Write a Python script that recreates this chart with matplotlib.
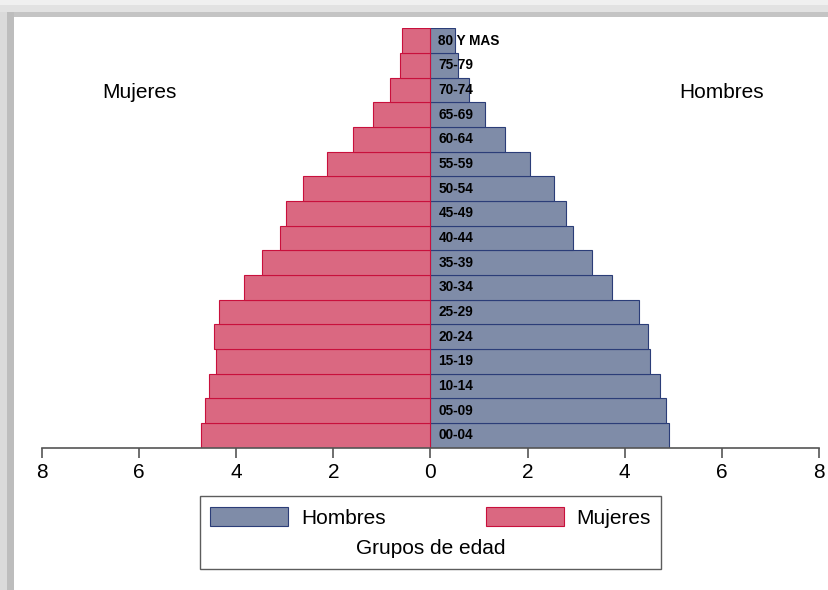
import matplotlib
matplotlib.use('Agg')
import matplotlib.pyplot as plt
from matplotlib.patches import Rectangle, Patch

plt.rcParams['font.family'] = ['Liberation Sans', 'DejaVu Sans']

# datos de la piramide (porcentaje de poblacion)
grupos = ['00-04', '05-09', '10-14', '15-19', '20-24', '25-29', '30-34', '35-39', '40-44',
          '45-49', '50-54', '55-59', '60-64', '65-69', '70-74', '75-79', '80 Y MAS']
hombres = [4.92, 4.84, 4.73, 4.52, 4.47, 4.30, 3.74, 3.33, 2.94,
           2.78, 2.54, 2.04, 1.53, 1.13, 0.79, 0.57, 0.51]
mujeres = [4.73, 4.64, 4.56, 4.42, 4.46, 4.36, 3.84, 3.48, 3.10,
           2.97, 2.63, 2.13, 1.59, 1.19, 0.84, 0.62, 0.59]
ticks = [-8, -6, -4, -2, 0, 2, 4, 6, 8]

col_h = '#7f8ca8'
borde_h = '#2b3d78'
col_m = '#da6881'
borde_m = '#c8103c'

fig = plt.figure(figsize=(8.29, 5.90), dpi=100)

# sombra gris del marco (arriba e izquierda)
W, H = 829, 590
for y0, y1, c in [(0, 5, '#f0f0f0'), (5, 12, '#e2e2e2'), (12, 17, '#c4c4c4')]:
    fig.patches.append(Rectangle((0, 1 - y1 / H), 1, (y1 - y0) / H, transform=fig.transFigure,
                                 facecolor=c, edgecolor='none', zorder=0))
for x0, x1, c in [(0, 7, '#dadada'), (7, 14, '#bdbdbd')]:
    fig.patches.append(Rectangle((x0 / W, 0), (x1 - x0) / W, 1 - 12 / H, transform=fig.transFigure,
                                 facecolor=c, edgecolor='none', zorder=0))

ax = fig.add_axes([42 / W, 1 - 447.5 / H, (819 - 42) / W, (447.5 - 28.4) / H])
ax.patch.set_alpha(0)

y = range(len(grupos))
ax.barh(y, hombres, height=1.0, color=col_h, edgecolor=borde_h, linewidth=0.8)
ax.barh(y, [-v for v in mujeres], height=1.0, color=col_m, edgecolor=borde_m, linewidth=0.8)

for i, g in enumerate(grupos):
    ax.text(0.16, i, g, ha='left', va='center', fontsize=9.8, fontweight='bold', color='black')

ax.text(-6, 13.9, 'Mujeres', ha='center', va='center', fontsize=15)
ax.text(6, 13.9, 'Hombres', ha='center', va='center', fontsize=15)

ax.set_xlim(-8, 8)
ax.set_ylim(-0.5, 16.5)
ax.set_xticks(ticks)
ax.set_xticklabels([str(abs(t)) for t in ticks], fontsize=15)
ax.set_yticks([])
for s in ['top', 'right', 'left']:
    ax.spines[s].set_visible(False)
ax.spines['bottom'].set_color('#555555')
ax.spines['bottom'].set_linewidth(1.2)
ax.tick_params(axis='x', direction='out', length=7, width=1.2, color='#555555', pad=4)

handles = [Patch(facecolor=col_h, edgecolor=borde_h, linewidth=0.8, label='Hombres'),
           Patch(facecolor=col_m, edgecolor=borde_m, linewidth=0.8, label='Mujeres')]
leg = fig.legend(handles=handles, ncol=2, loc='center', bbox_to_anchor=(430.5 / W, 1 - 532.5 / H),
                 title='Grupos de edad', fontsize=15, title_fontsize=15, frameon=True,
                 fancybox=False, edgecolor='#333333', handlelength=3.75, handleheight=1.05,
                 handletextpad=0.6, columnspacing=4.8, borderpad=0.5, labelspacing=0.55)
leg.get_frame().set_linewidth(1.0)
# titulo de la leyenda debajo de las entradas
leg._legend_box._children.reverse()

fig.savefig('out.png', dpi=100)
